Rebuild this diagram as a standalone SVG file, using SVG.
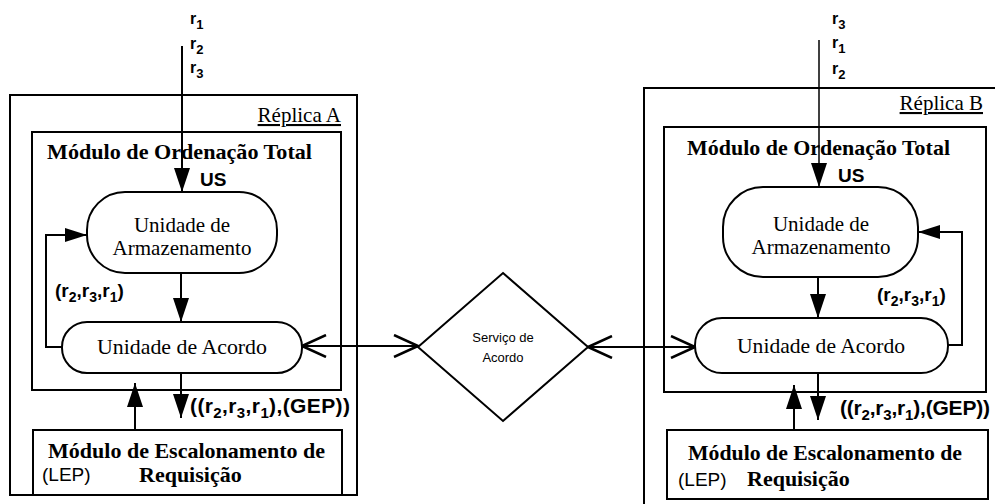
<svg xmlns="http://www.w3.org/2000/svg" width="995" height="504" viewBox="0 0 995 504">
<style>
.box{fill:none;stroke:#000;stroke-width:2}
.shape{fill:#fff;stroke:#000;stroke-width:2}
.ser{font-family:"Liberation Serif","Times New Roman",serif;fill:#000}
.serb{font-family:"Liberation Serif","Times New Roman",serif;font-weight:bold;fill:#000}
.sans{font-family:"Liberation Sans",Arial,sans-serif;fill:#000}
.sansb{font-family:"Liberation Sans",Arial,sans-serif;font-weight:bold;fill:#000}
.con{fill:none;stroke:#000;stroke-width:2}
.thin{stroke-width:1.5}
</style>
<defs>
<marker id="tri" viewBox="0 0 24 16" refX="24" refY="8" markerWidth="24" markerHeight="16" orient="auto" markerUnits="userSpaceOnUse"><path d="M0,0 L24,8 L0,16 z" fill="#000"/></marker>
<marker id="tris" viewBox="0 0 22 14" refX="22" refY="7" markerWidth="22" markerHeight="14" orient="auto" markerUnits="userSpaceOnUse"><path d="M0,0 L22,7 L0,14 z" fill="#000"/></marker>
<marker id="vee" viewBox="0 0 26 24" refX="25" refY="12" markerWidth="26" markerHeight="24" orient="auto-start-reverse" markerUnits="userSpaceOnUse"><path d="M1,1 L25,12 L1,23" fill="none" stroke="#000" stroke-width="2.5"/></marker>
</defs>
<rect width="995" height="504" fill="#fff"/>

<g id="replicaA">
<rect class="box" x="10" y="95" width="347" height="400"/>
<text class="ser" x="341" y="122" font-size="21" text-anchor="end" text-decoration="underline">Réplica A</text>
</g>
<g id="ordenacaoA">
<rect class="box" x="32" y="132" width="309" height="258"/>
<text class="serb" x="47" y="159" font-size="22" textLength="265" lengthAdjust="spacingAndGlyphs">Módulo de Ordenação Total</text>
<text class="sansb" x="200" y="186" font-size="19">US</text>
</g>
<g id="armazenamentoA">
<rect class="shape" x="87" y="192" width="190" height="81" rx="38" ry="38"/>
<text class="ser" x="182" y="232" font-size="21" text-anchor="middle">Unidade de</text>
<text class="ser" x="182" y="255" font-size="21" text-anchor="middle">Armazenamento</text>
</g>
<g id="acordoA">
<rect class="shape" x="62" y="322" width="240" height="51" rx="25" ry="25"/>
<text class="ser" x="182" y="354" font-size="21" text-anchor="middle" textLength="170" lengthAdjust="spacingAndGlyphs">Unidade de Acordo</text>
</g>
<g id="escalonamentoA">
<rect class="box" x="33" y="430" width="309" height="65"/>
<text class="serb" x="48" y="458" font-size="22" textLength="277" lengthAdjust="spacingAndGlyphs">Módulo de Escalonamento de</text>
<text class="sans" x="42" y="481" font-size="19">(LEP)</text>
<text class="serb" x="139" y="482" font-size="22">Requisição</text>
</g>

<g id="servico">
<polygon class="shape" points="503,273 588,347 503,421 418,347"/>
<text class="sans" x="503" y="342" font-size="13" text-anchor="middle">Serviço de</text>
<text class="sans" x="503" y="362" font-size="13" text-anchor="middle">Acordo</text>
</g>

<g id="replicaB">
<rect class="box" x="644" y="88" width="360" height="430"/>
<text class="ser" x="983" y="110" font-size="21" text-anchor="end" text-decoration="underline">Réplica B</text>
</g>
<g id="ordenacaoB">
<rect class="box" x="664" y="127" width="322" height="265"/>
<text class="serb" x="687" y="155" font-size="22" textLength="263" lengthAdjust="spacingAndGlyphs">Módulo de Ordenação Total</text>
<text class="sansb" x="838" y="182" font-size="19">US</text>
</g>
<g id="armazenamentoB">
<rect class="shape" x="723" y="187" width="195" height="90" rx="40" ry="40"/>
<text class="ser" x="821" y="231" font-size="21" text-anchor="middle">Unidade de</text>
<text class="ser" x="821" y="254" font-size="21" text-anchor="middle">Armazenamento</text>
</g>
<g id="acordoB">
<rect class="shape" x="695" y="318" width="253" height="55" rx="27" ry="27"/>
<text class="ser" x="821" y="353" font-size="21" text-anchor="middle" textLength="168" lengthAdjust="spacingAndGlyphs">Unidade de Acordo</text>
</g>
<g id="escalonamentoB">
<rect class="box" x="667" y="430" width="321" height="69"/>
<text class="serb" x="688" y="460" font-size="22" textLength="274" lengthAdjust="spacingAndGlyphs">Módulo de Escalonamento de</text>
<text class="sans" x="678" y="486" font-size="19">(LEP)</text>
<text class="serb" x="747" y="486" font-size="22">Requisição</text>
</g>

<g id="connectors">
<path class="con" d="M182,46 V192" marker-end="url(#tri)"/>
<path class="con" d="M181,273 V322" marker-end="url(#tri)"/>
<path class="con" d="M62,347 H46 V235 H87" marker-end="url(#tris)"/>
<path class="con" d="M181,373 V418" marker-end="url(#tri)"/>
<path class="con" d="M135,430 V383" marker-end="url(#tri)"/>
<path class="con" d="M302,346 H418" marker-start="url(#vee)" marker-end="url(#vee)"/>
<path class="con" d="M588,347 H695" marker-start="url(#vee)" marker-end="url(#vee)"/>
<path class="con thin" d="M819,40 V187" marker-end="url(#tri)"/>
<path class="con" d="M818,277 V318" marker-end="url(#tri)"/>
<path class="con" d="M948,345 H962 V232 H918" marker-end="url(#tris)"/>
<path class="con" d="M818,373 V420" marker-end="url(#tri)"/>
<path class="con" d="M794,430 V385" marker-end="url(#tri)"/>
</g>

<g id="labels">
<text class="sansb" x="190" y="24" font-size="16">r<tspan font-size="13" dy="5">1</tspan></text>
<text class="sansb" x="190" y="49" font-size="16">r<tspan font-size="13" dy="5">2</tspan></text>
<text class="sansb" x="190" y="73" font-size="16">r<tspan font-size="13" dy="5">3</tspan></text>
<text class="sansb" x="832" y="24" font-size="16">r<tspan font-size="13" dy="5">3</tspan></text>
<text class="sansb" x="832" y="48" font-size="16">r<tspan font-size="13" dy="5">1</tspan></text>
<text class="sansb" x="832" y="74" font-size="16">r<tspan font-size="13" dy="5">2</tspan></text>
<text class="sansb" x="55" y="297" font-size="19">(r<tspan font-size="14" dy="5">2</tspan><tspan dy="-5">,r</tspan><tspan font-size="14" dy="5">3</tspan><tspan dy="-5">,r</tspan><tspan font-size="14" dy="5">1</tspan><tspan dy="-5">)</tspan></text>
<text class="sansb" x="877" y="301" font-size="19">(r<tspan font-size="14" dy="5">2</tspan><tspan dy="-5">,r</tspan><tspan font-size="14" dy="5">3</tspan><tspan dy="-5">,r</tspan><tspan font-size="14" dy="5">1</tspan><tspan dy="-5">)</tspan></text>
<text class="sansb" x="190" y="413" font-size="21" textLength="160">((r<tspan font-size="15" dy="5">2</tspan><tspan dy="-5">,r</tspan><tspan font-size="15" dy="5">3</tspan><tspan dy="-5">,r</tspan><tspan font-size="15" dy="5">1</tspan><tspan dy="-5">),(GEP))</tspan></text>
<text class="sansb" x="840" y="415" font-size="21" textLength="150">((r<tspan font-size="15" dy="5">2</tspan><tspan dy="-5">,r</tspan><tspan font-size="15" dy="5">3</tspan><tspan dy="-5">,r</tspan><tspan font-size="15" dy="5">1</tspan><tspan dy="-5">),(GEP))</tspan></text>
</g>
</svg>
